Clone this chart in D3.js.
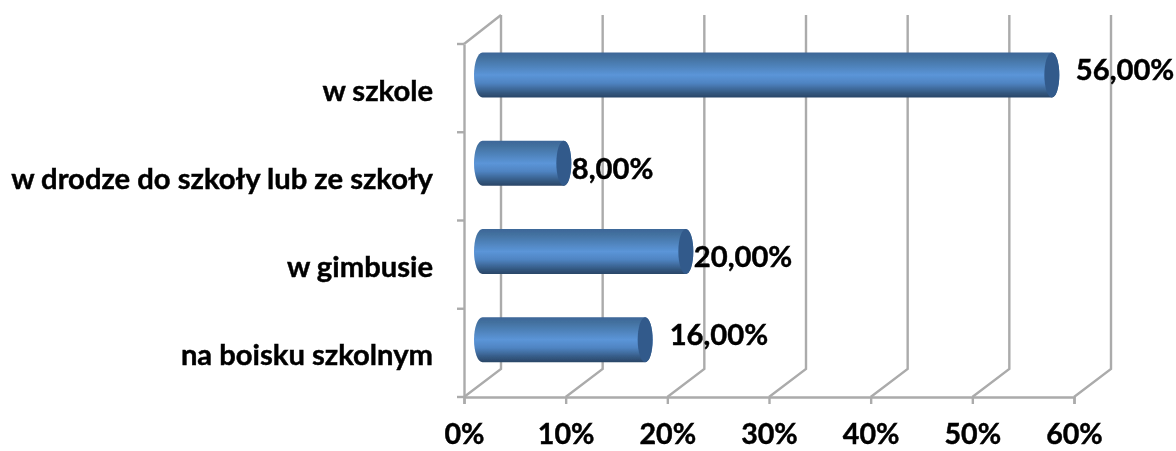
<!DOCTYPE html>
<html><head><meta charset="utf-8">
<script src="https://cdn.jsdelivr.net/npm/d3@7"></script>
<style>html,body{margin:0;padding:0;background:#fff}svg{display:block}text{font-family:Lato,"Open Sans",sans-serif;font-weight:700;fill:#000;stroke:#000;stroke-width:.45px}</style>
</head><body><div id="c"></div><script>
const categories=["w szkole","w drodze do szkoły lub ze szkoły","w gimbusie","na boisku szkolnym"];
const values=[0.56,0.08,0.20,0.16];
const valueLabels=["56,00%","8,00%","20,00%","16,00%"];
const tickValues=[0,0.1,0.2,0.3,0.4,0.5,0.6];
const labelDx=[16.5,0.5,0.5,17];
const labelDy=[-6,5,5,-5];

const W=1176,H=451,depthX=37,depthY=28,barInsetX=18.5,capRx=7.5,fs="29.2px";
const svg=d3.select("#c").append("svg").attr("width",W).attr("height",H);
const defs=svg.append("defs");
const g=defs.append("linearGradient").attr("id","cyl").attr("x1",0).attr("y1",0).attr("x2",0).attr("y2",1);
[[0,"#3d6698"],[0.12,"#43719f"],[0.5,"#5b95d8"],[0.68,"#4f84c2"],[0.9,"#33577f"],[1,"#2a4667"]].forEach(s=>g.append("stop").attr("offset",s[0]).attr("stop-color",s[1]));
defs.append("filter").attr("id","soft").attr("x","-5%").attr("y","-5%").attr("width","110%").attr("height","110%")
  .append("feGaussianBlur").attr("stdDeviation",0.55);

const x=d3.scaleLinear().domain([0,0.6]).range([464,1074]);
const y=d3.scaleBand().domain(categories).range([44,397]);
const root=svg.append("g").attr("filter","url(#soft)");
const grey="#ababab";

// back wall and floor lines
const wallTop=y.range()[0]-depthY-1,floorY=y.range()[1];
const grid=root.append("g").attr("fill","none").attr("stroke",grey).attr("stroke-width",2.4);
grid.selectAll("path.w").data(tickValues).join("path").attr("class","w")
  .attr("d",d=>`M${x(d)},${floorY}L${x(d)+depthX},${floorY-depthY}V${wallTop}`);
grid.append("path").attr("d",`M${x(0)},${y.range()[0]}L${x(0)+depthX},${wallTop}`);

// axes
const ax=root.append("g").attr("transform",`translate(0,${floorY})`)
  .call(d3.axisBottom(x).tickValues(tickValues).tickSize(7).tickFormat(d3.format(".0%")));
const ay=root.append("g").attr("transform",`translate(${x(0)},0)`)
  .call(d3.axisLeft(y).tickSize(0).tickPadding(31));
[ax,ay].forEach(a=>{a.select(".domain").attr("stroke",grey).attr("stroke-width",2.4);
  a.selectAll("line").attr("stroke",grey).attr("stroke-width",2.4);
  a.selectAll("text").style("font-size",fs).attr("fill","#000");});
ax.selectAll("text").style("font-size","28.6px").attr("y",27).attr("dy","0.71em").attr("dx",0);
ay.selectAll("text").attr("dy","0.36em").attr("y",2);
root.append("g").selectAll("line").data(y.domain().map(c=>y(c)).concat(floorY)).join("line")
  .attr("x1",x(0)-7).attr("x2",x(0)).attr("y1",d=>d).attr("y2",d=>d).attr("stroke",grey).attr("stroke-width",2.4);

// cylinders
const bh=45,barTop=c=>y(c)+8.5;
const bars=root.append("g").selectAll("g").data(categories).join("g");
const x0=x(0)+barInsetX;
bars.append("path").attr("fill","url(#cyl)").attr("d",(c,i)=>{
  const xe=x0+x(values[i])-x(0),t=barTop(c),r=bh/2;
  return `M${x0},${t}H${xe}A${capRx},${r} 0 0 1 ${xe},${t+bh}H${x0}A${capRx+1},${r} 0 0 1 ${x0},${t}Z`;});
bars.append("ellipse").attr("fill","#325a8b")
  .attr("cx",(c,i)=>x0+x(values[i])-x(0)).attr("cy",c=>barTop(c)+bh/2)
  .attr("rx",capRx).attr("ry",bh/2);

// value labels
bars.append("text").style("font-size",fs)
  .attr("x",(c,i)=>x0+x(values[i])-x(0)+capRx+labelDx[i])
  .attr("y",(c,i)=>barTop(c)+bh/2+labelDy[i])
  .attr("dy","0.36em").text((c,i)=>valueLabels[i]);
</script></body></html>
